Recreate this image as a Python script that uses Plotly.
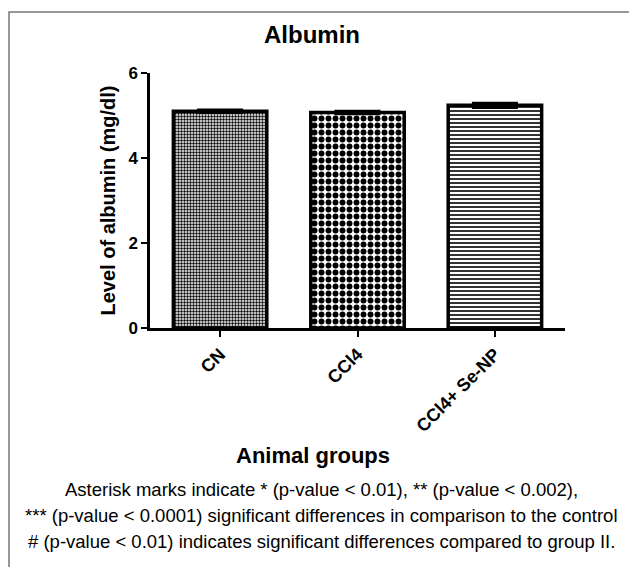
import plotly.graph_objects as go

# ---- data ----
groups = ["CN", "CCl4", "CCl4+ Se-NP"]
albumin = [5.10, 5.07, 5.24]
sem = [0.03, 0.03, 0.05]
y_ticks = [0, 2, 4, 6]

title_text = "Albumin"
y_title = "Level of albumin (mg/dl)"
x_title = "Animal groups"
caption = [
    "Asterisk marks indicate * (p-value < 0.01), ** (p-value < 0.002),",
    "*** (p-value < 0.0001) significant differences in comparison to the control",
    "# (p-value < 0.01) indicates significant differences compared to group II.",
]

# ---- layout geometry (pixels) ----
W, H = 629, 567
L, R, T, B = 150, 565, 73, 328
pw, ph = R - L, B - T


def px(x):
    return (x - L) / pw


def py(y):
    return (B - y) / ph


patterns = [
    dict(shape=".", size=3, solidity=0.5, fgcolor="black", bgcolor="white",
         fgopacity=1, fillmode="replace"),
    dict(shape=".", size=7, solidity=0.55, fgcolor="black", bgcolor="white",
         fgopacity=1, fillmode="replace"),
    dict(shape="-", size=4, solidity=0.4, fgcolor="black", bgcolor="white",
         fgopacity=1, fillmode="replace"),
]

fig = go.Figure()
for g, v, e, p in zip(groups, albumin, sem, patterns):
    fig.add_trace(go.Bar(
        x=[g], y=[v],
        width=0.68,
        marker=dict(color="white", line=dict(color="black", width=3.5), pattern=p),
        error_y=dict(type="data", array=[e], visible=True, color="black",
                     thickness=3, width=23),
        showlegend=False,
    ))

font_main = "Liberation Sans, Arial, sans-serif"

fig.update_layout(
    width=W, height=H,
    margin=dict(l=L, r=W - R, t=T, b=H - B),
    paper_bgcolor="white", plot_bgcolor="white",
    font=dict(family=font_main, color="black"),
    title=dict(text="<b>%s</b>" % title_text, x=312 / W, xanchor="center",
               y=1 - 35 / H, yanchor="middle", font=dict(size=24)),
    bargap=0.3,
    xaxis=dict(
        range=[-0.51, 2.51], showline=True, linecolor="black", linewidth=2.5,
        ticks="outside", ticklen=6, tickwidth=2, tickcolor="black",
        tickangle=-45, tickfont=dict(size=18, family=font_main),
        tickvals=groups, ticktext=["<b>%s</b>" % g for g in groups],
        showgrid=False, zeroline=False, fixedrange=True,
    ),
    yaxis=dict(
        range=[0, 6], tickvals=y_ticks,
        ticktext=["<b>%d</b>" % t for t in y_ticks],
        showline=True, linecolor="black", linewidth=2.5,
        ticks="outside", ticklen=6, tickwidth=2, tickcolor="black",
        tickfont=dict(size=17, family=font_main),
        showgrid=False, zeroline=False,
        title=dict(text="<b>%s</b>" % y_title, font=dict(size=20), standoff=8),
    ),
)

# x axis title
fig.add_annotation(text="<b>%s</b>" % x_title, xref="paper", yref="paper",
                   x=px(313), y=py(455), xanchor="center", yanchor="middle",
                   showarrow=False, font=dict(size=22))

# caption lines
for line, yy in zip(caption, [489, 515, 541]):
    fig.add_annotation(text=line, xref="paper", yref="paper",
                       x=px(321), y=py(yy), xanchor="center", yanchor="middle",
                       showarrow=False, font=dict(size=18.5, family=font_main))

# frame
fig.add_shape(type="rect", xref="paper", yref="paper",
              x0=px(9), x1=px(660), y0=py(600), y1=py(12),
              line=dict(color="#777777", width=1.5), layer="below")

fig.write_html("out.html")
